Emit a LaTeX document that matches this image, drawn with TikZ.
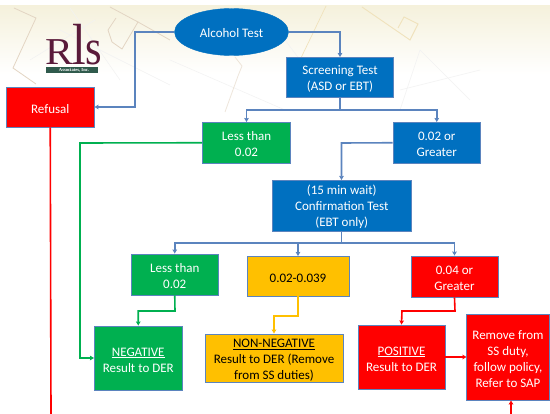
\documentclass[tikz,border=0pt]{standalone}
\usepackage{fontspec}
\setmainfont{Carlito}
\usetikzlibrary{arrows.meta,shapes.geometric,calc}
\definecolor{bluefill}{HTML}{0070C0}
\definecolor{edgeblue}{HTML}{5B84BE}
\definecolor{gfill}{HTML}{00B050}
\definecolor{yfill}{HTML}{FFC000}
\definecolor{rfill}{HTML}{FF0000}
\definecolor{cream}{HTML}{F5F1DC}
\definecolor{maroon}{HTML}{5A1A3A}
\definecolor{mapline}{HTML}{E3D5C3}
\definecolor{mapgold}{HTML}{F0E2BC}
\definecolor{logobar}{HTML}{2F5A4C}
\tikzset{
 x=1pt,y=-1pt,
 boxbase/.style={draw=edgeblue,line width=0.9pt,rectangle,align=center,inner sep=0pt,font=\fontsize{13}{16}\selectfont},
 bluebox/.style={boxbase,fill=bluefill,text=white},
 greenbox/.style={boxbase,fill=gfill,text=white},
 yellowbox/.style={boxbase,fill=yfill,text=black},
 redbox/.style={boxbase,fill=rfill,text=white},
 conn/.style={line width=1.6pt,-{Stealth[length=4pt,width=4.5pt,inset=0.5pt]}},
 plain/.style={line width=1.6pt},
 bl/.style={conn,draw=edgeblue},
 gl/.style={conn,draw=gfill},
 yl/.style={conn,draw=yfill},
 rl/.style={conn,draw=rfill},
 mapstroke/.style={draw=mapline,line width=0.8pt},
 mapthin/.style={draw=black!5,line width=0.5pt},
}
\newcommand{\boxat}[7]{\node[#1,minimum width=#4pt-#2pt,minimum height=#5pt-#3pt] (#6) at ({(#2+#4)/2},{(#3+#5)/2}) {\rule{0pt}{12.5pt}#7};}
\begin{document}
\begin{tikzpicture}
\useasboundingbox (0,0) rectangle (550,414);
\fill[white] (0,0) rectangle (550,414);
% background band
\shade[top color=cream,bottom color=white] (0,6) rectangle (550,74);
% faint map lines
\draw[mapthin] (60,30) -- (170,85) (30,60) -- (95,20) (170,60) -- (285,110) (400,90) -- (480,70) (420,50) -- (470,100) (420,50) -- (400,110) (70,8) -- (120,80) (300,60) -- (270,20);
\draw[mapstroke] (14,8) -- (36,18) -- (13,68) -- (36,84);
\draw[mapstroke] (110,7) -- (138,22) -- (122,49) -- (112,42) -- (108,30) -- (116,18);
\draw[mapstroke] (138,22) -- (170,40);
\draw[mapstroke,opacity=.6] (235,57) -- (242,66) -- (238,76) -- (225,112);
\draw[mapgold,line width=.9pt] (362,7) -- (410,40) -- (418,24) -- (404,17) -- (398,28);
\draw[mapgold,line width=.7pt] (326,6) -- (300,60);
% logo
\node[inner sep=0pt,anchor=base west,text=maroon,font=\fontspec{Liberation Serif}] (logo) at (45.5,64.5) {\fontsize{38}{38}\selectfont\scalebox{1.1}[1]{R}\kern-1.5pt\fontsize{58}{58}\selectfont\scalebox{0.85}[1]{l}\kern-0.5pt\fontsize{50}{50}\selectfont\scalebox{0.85}[1]{s}};
\fill[logobar] (46,67) rectangle (98,73);
\node[inner sep=0pt,text=white,font=\fontspec{Liberation Serif}\bfseries\fontsize{4.6}{5}\selectfont] (assoc) at (74,70.2) {Associates, Inc.};
% shapes
\node[ellipse,fill=bluefill,draw=bluefill,inner sep=0pt,minimum width=114pt,minimum height=47pt,text=white,font=\fontsize{13}{16}\selectfont] (alc) at (231.5,32) {\rule{0pt}{11pt}Alcohol Test};
\boxat{redbox}{6.5}{87}{94}{127}{ref}{Refusal}
\boxat{bluebox}{286.5}{57.5}{393.5}{97}{scr}{Screening Test\\(ASD or EBT)}
\boxat{greenbox}{202.5}{122.5}{290.5}{163}{lt1}{Less than\\0.02}
\boxat{bluebox}{393}{122.5}{480.5}{163}{gt1}{0.02 or\\Greater}
\boxat{bluebox}{272}{180}{411.5}{231.5}{conf}{(15 min wait)\\Confirmation Test\\(EBT only)}
\boxat{greenbox}{131}{254}{218.5}{295}{lt2}{Less than\\0.02}
\boxat{yellowbox}{247}{256}{349}{296}{mid}{0.02-0.039}
\boxat{redbox}{411}{256}{498}{297}{gt2}{0.04 or\\Greater}
\boxat{greenbox}{94.5}{326}{182}{390}{neg}{\underline{NEGATIVE}\\Result to DER}
\boxat{yellowbox}{205}{334}{343}{382}{non}{\underline{NON-NEGATIVE}\\Result to DER (Remove\\from SS duties)}
\boxat{redbox}{358}{325}{445}{389}{pos}{\underline{POSITIVE}\\Result to DER}
\boxat{redbox}{466.5}{314}{549.5}{400}{rem}{Remove from\\SS duty,\\follow policy,\\Refer to SAP}
% free ends
\coordinate (refend) at (51,414);
\coordinate (remstart) at (511,414);
% connectors
\draw[bl] (alc.west) -| (135,107) -- (ref.east);
\draw[bl] (alc.east) -- (340,32) -- (scr.north);
\draw[plain,draw=edgeblue] (scr.south) -- (340,110);
\draw[bl] (340,110) -| (lt1.north);
\draw[bl] (340,110) -| (gt1.north);
\draw[bl] (gt1.west) -- (341.5,143) -- (341.5,180);
\draw[plain,draw=edgeblue] (341.5,231.5) -- (341.5,243);
\draw[bl] (341.5,243) -| (lt2.north);
\draw[bl] (341.5,243) -| (298,256);
\draw[bl] (341.5,243) -| (gt2.north);
\draw[gl] (lt1.west) -- (80,143) |- (neg.west);
\draw[gl] (lt2.south) -- (175,311) -| (neg.north);
\draw[yl] (mid.south) -- (298,316) -- (274,316) -- (non.north);
\draw[rl] (gt2.south) -- (455,311) -- (402,311) -- (pos.north);
\draw[rl] (445,357) -- (466.5,357);
\draw[rl] (remstart) -- (rem.south -| remstart);
\draw[plain,draw=rfill] (ref.south) -- (refend);
\end{tikzpicture}
\end{document}
